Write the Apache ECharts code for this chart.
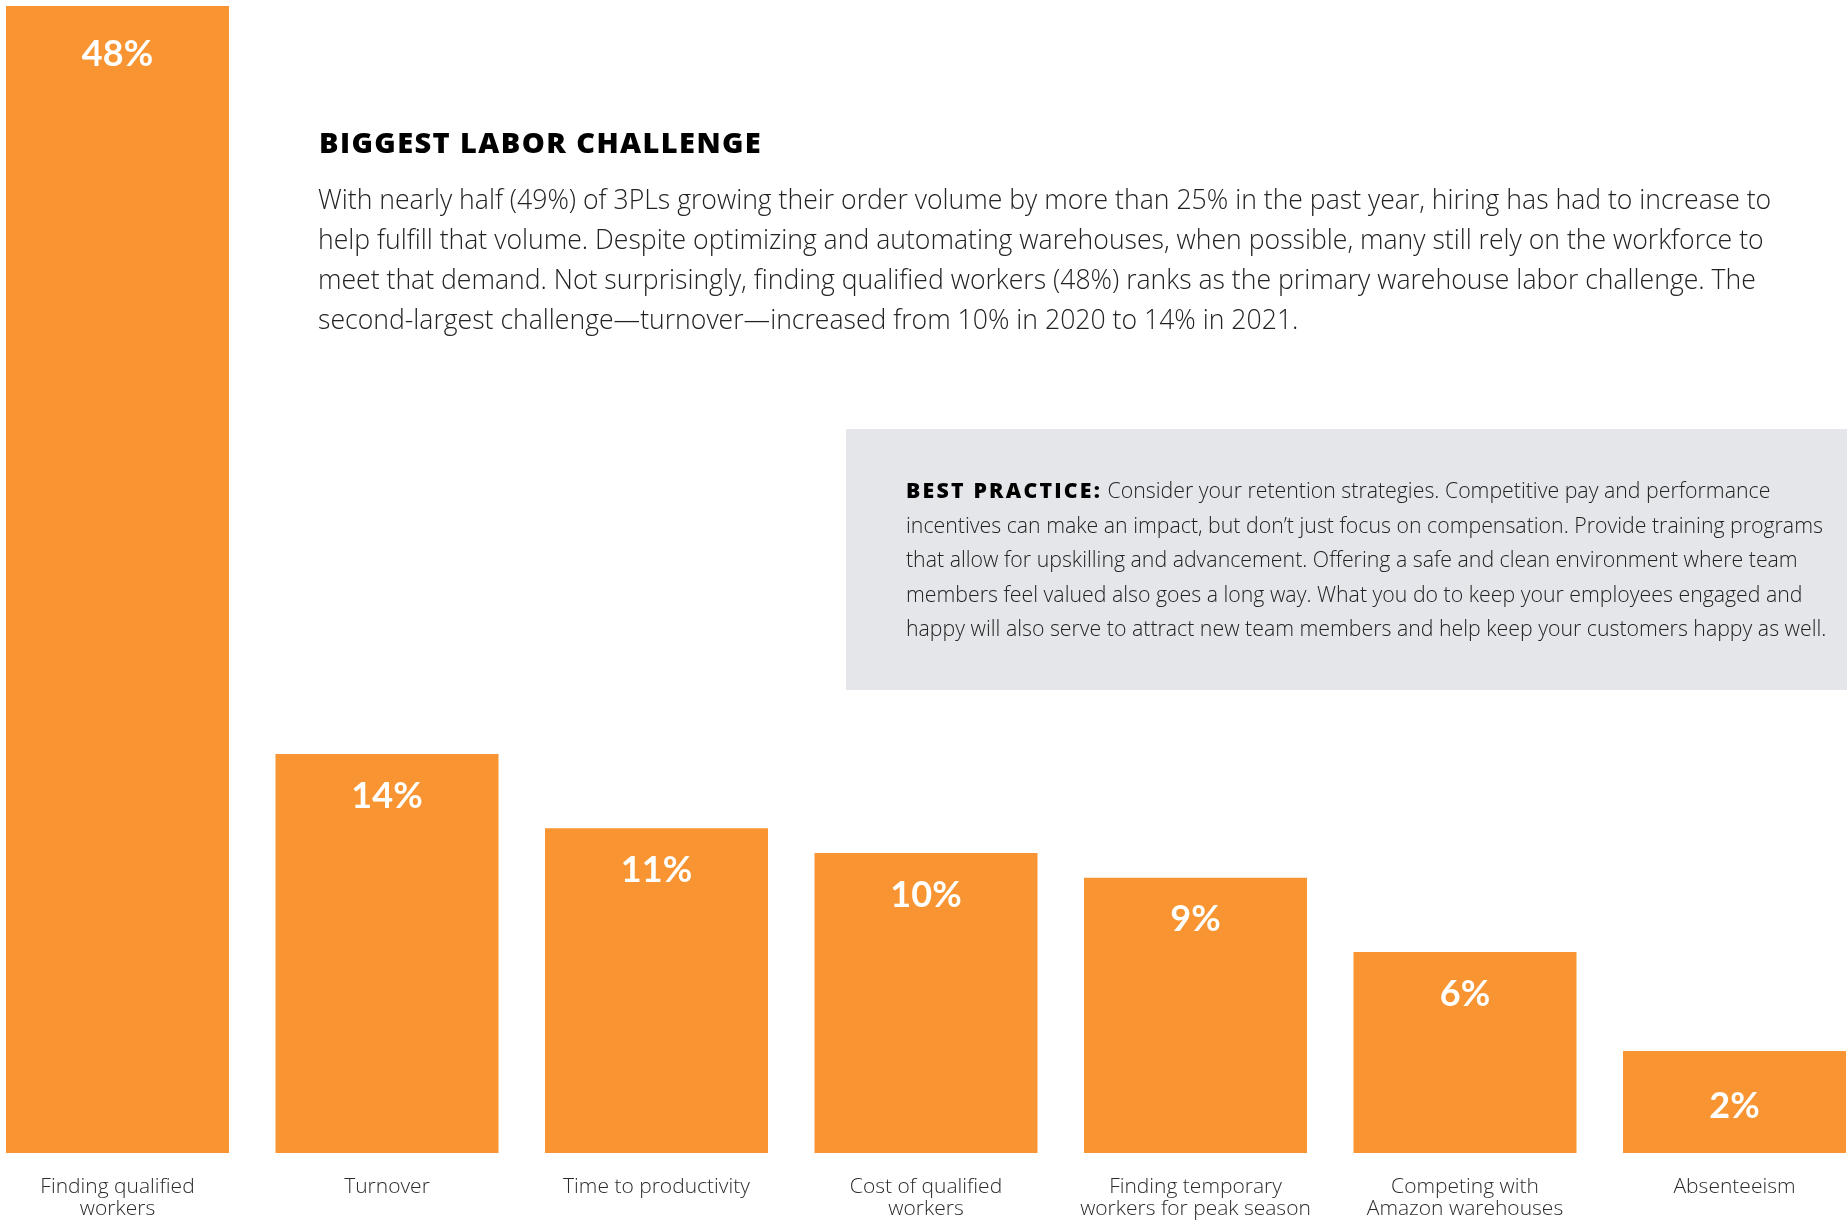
<!DOCTYPE html>
<html>
<head>
<meta charset="utf-8">
<script src="https://cdn.jsdelivr.net/npm/echarts@6/dist/echarts.min.js"></script>
<style>
html,body{margin:0;padding:0;background:#fff;}
#chart{width:1847px;height:1222px;}
</style>
</head>
<body>
<div id="chart"></div>
<script>
// ---- data ----
var categories = [
  'Finding qualified\nworkers',
  'Turnover',
  'Time to productivity',
  'Cost of qualified\nworkers',
  'Finding temporary\nworkers for peak season',
  'Competing with\nAmazon warehouses',
  'Absenteeism'
];
var values = [48, 14, 11, 10, 9, 6, 2];          // percent
var baseOffset = 2.12;                             // visual stub below 0% in the original design
var axisMax = 46.34;                               // top of plot (first bar is cut off)

var titleText = 'BIGGEST LABOR CHALLENGE';
var bodyLines = [
  'With nearly half (49%) of 3PLs growing their order volume by more than 25% in the past year, hiring has had to increase to',
  'help fulfill that volume. Despite optimizing and automating warehouses, when possible, many still rely on the workforce to',
  'meet that demand. Not surprisingly, finding qualified workers (48%) ranks as the primary warehouse labor challenge. The',
  'second-largest challenge\u2014turnover\u2014increased from 10% in 2020 to 14% in 2021.'
];
var bpLead = 'BEST PRACTICE:';
var bpLines = [
  ' Consider your retention strategies. Competitive pay and performance',
  'incentives can make an impact, but don\u2019t just focus on compensation. Provide training programs',
  'that allow for upskilling and advancement. Offering a safe and clean environment where team',
  'members feel valued also goes a long way. What you do to keep your employees engaged and',
  'happy will also serve to attract new team members and help keep your customers happy as well.'
];

// ---- helpers ----
function tracked(str, style) {
  return str.split('').map(function (c) { return '{' + style + '|' + c + '}'; }).join('');
}

// ---- chart ----
var chart = echarts.init(document.getElementById('chart'), null, {renderer: 'canvas'});
var ORANGE = '#f89532';

var bpText = tracked(bpLead, 'b') + '{r|' + bpLines[0] + '}\n' +
  bpLines.slice(1).map(function (l) { return '{r|' + l + '}'; }).join('\n');

// label distance from bar top (first and last bars sit lower in the original)
var labelDistance = [30, 24, 24, 24, 24, 24, 37];

var option = {
  backgroundColor: '#ffffff',
  animation: false,
  grid: {
    left: -17.25, right: -22.25, top: 6, bottom: 69,
    outerBoundsMode: 'none'
  },
  xAxis: {
    type: 'category',
    data: categories,
    axisLine: {show: false},
    axisTick: {show: false},
    axisLabel: {
      interval: 0,
      margin: 23,
      fontFamily: 'Open Sans',
      fontWeight: 300,
      fontSize: 21,
      lineHeight: 22,
      color: '#2b2b2b'
    }
  },
  yAxis: {
    type: 'value',
    min: 0,
    max: axisMax,
    show: false,
    splitLine: {show: false}
  },
  graphic: [
    {
      type: 'rect',
      z: 0,
      shape: {x: 846, y: 429, width: 1010, height: 261},
      style: {fill: '#e5e6ea'}
    },
    {
      type: 'text',
      z: 10,
      x: 319, y: 145,
      style: {
        text: tracked(titleText, 't'),
        textVerticalAlign: 'middle',
        rich: {
          t: {fontFamily: 'Open Sans', fontWeight: 800, fontSize: 29, fill: '#000000', padding: [0, 1.4, 0, 0]}
        }
      }
    },
    {
      type: 'text',
      z: 10,
      x: 318, y: 181.5,
      style: {
        text: bodyLines.join('\n'),
        fontFamily: 'Open Sans',
        fontWeight: 300,
        fontSize: 26.6,
        lineHeight: 40,
        fill: '#222222',
        textVerticalAlign: 'top'
      }
    },
    {
      type: 'text',
      z: 10,
      x: 906, y: 475,
      style: {
        text: bpText,
        textVerticalAlign: 'top',
        rich: {
          b: {fontFamily: 'Open Sans', fontWeight: 800, fontSize: 21.3, lineHeight: 34.5, fill: '#000000', padding: [0, 2.2, 0, 0]},
          r: {fontFamily: 'Open Sans', fontWeight: 300, fontSize: 21.3, lineHeight: 34.5, fill: '#222222'}
        }
      }
    }
  ],
  series: [{
    type: 'bar',
    barWidth: 223,
    clip: true,
    data: values.map(function (v, i) {
      return {value: v + baseOffset, label: {distance: labelDistance[i]}};
    }),
    itemStyle: {color: ORANGE},
    label: {
      show: true,
      position: 'insideTop',
      distance: 24,
      formatter: function (p) { return values[p.dataIndex] + '%'; },
      fontFamily: 'Lato',
      fontWeight: 'bold',
      fontSize: 36,
      lineHeight: 36,
      color: '#ffffff'
    }
  }]
};
chart.setOption(option);
</script>
</body>
</html>
